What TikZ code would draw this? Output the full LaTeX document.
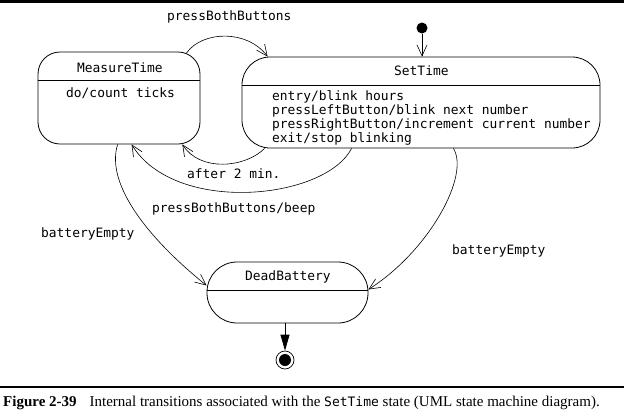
\documentclass[tikz,border=0pt]{standalone}
\usepackage{fontspec}
\setmainfont{Liberation Serif}
\newfontfamily\dmono{DejaVu Sans Mono}
\usetikzlibrary{arrows.meta,calc}
\tikzset{
  statebox/.style={draw, line width=0.8pt, inner sep=0pt},
  divider/.style={line width=0.7pt},
  lbl/.style={anchor=base west, inner sep=0pt, font=\dmono\fontsize{12.9}{13.7}\selectfont},
  trans/.style={line width=0.6pt, -{Straight Barb[length=11pt,width=10pt,line width=0.6pt]}},
  rulebar/.style={line width=2.5pt},
}
\begin{document}
\begin{tikzpicture}[x=1pt,y=-1pt]
\useasboundingbox (0,0) rectangle (630,418);
% rules
\draw[rulebar] (0,1.5) -- (624,1.5);
\draw[line width=2pt] (0,387) -- (624,387);
% states
\node[statebox, rounded corners=22pt, minimum width=162pt, minimum height=92pt] (mt) at (119,98) {};
\draw[divider] ([yshift=-29pt]mt.north west) -- ([yshift=-29pt]mt.north east);
\node[statebox, rounded corners=28pt, minimum width=358pt, minimum height=91pt] (st) at (421,102.5) {};
\draw[divider] ([yshift=-29pt]st.north west) -- ([yshift=-29pt]st.north east);
\node[statebox, rounded corners=30pt, minimum width=161pt, minimum height=61pt] (db) at (287.5,292.5) {};
\draw[divider] ([yshift=-29pt]db.north west) -- ([yshift=-29pt]db.north east);
% state texts
\node[lbl] (mtt) at (77,72) {MeasureTime};
\node[lbl] (mtb) at (66,97) {do/count ticks};
\node[lbl] (stt) at (394,75) {SetTime};
\node[lbl, align=left] (stb) at (272,142) {entry/blink hours\\pressLeftButton/blink next number\\pressRightButton/increment current number\\exit/stop blinking};
\node[lbl] (dbt) at (245,280) {DeadBattery};
% initial and final
\node[circle, fill, minimum size=11pt, inner sep=0pt] (ini) at (422,28) {};
\draw[trans] (ini) -- (ini |- st.north);
\node[circle, draw, line width=0.7pt, minimum size=18pt, inner sep=0pt] (fin) at (285,360) {};
\node[circle, fill, minimum size=12pt, inner sep=0pt] (finin) at (fin) {};
\draw[line width=0.8pt, -{Triangle[length=16pt,width=9pt]}] (fin |- db.south) -- (fin.north);
% transitions
\draw[trans] ([xshift=-14pt,yshift=-1.5pt]mt.north east) .. controls (203,30) and (248,30) .. ([xshift=26pt]st.north west);
\draw[trans] ([xshift=23pt]st.south west) .. controls (245,168) and (200,172) .. ([xshift=-18pt]mt.south east);
\draw[trans] ([xshift=110pt]st.south west) .. controls (325,200) and (175,215) .. ([xshift=94pt]mt.south west);
\draw[trans] ([xshift=80pt]mt.south west) .. controls (105,185) and (150,240) .. ([yshift=7pt]db.west);
\draw[trans] ([xshift=-147pt]st.south east) .. controls (470,175) and (430,250) .. ([yshift=3pt]db.east);
% transition labels
\node[lbl] (l1) at (167,20) {pressBothButtons};
\node[lbl] (l2) at (187,178) {after 2 min.};
\node[lbl] (l3) at (152,212) {pressBothButtons/beep};
\node[lbl] (l4) at (41,237) {batteryEmpty};
\node[lbl] (l5) at (452,254) {batteryEmpty};
% caption
\node[anchor=base west, inner sep=0pt, font=\fontsize{15}{17}\selectfont] (cap) at (3,406)
  {\textbf{Figure 2-39}\hspace{13pt}Internal transitions associated with the {\dmono\fontsize{13}{15}\selectfont SetTime} state (UML state machine diagram).};
\end{tikzpicture}
\end{document}
